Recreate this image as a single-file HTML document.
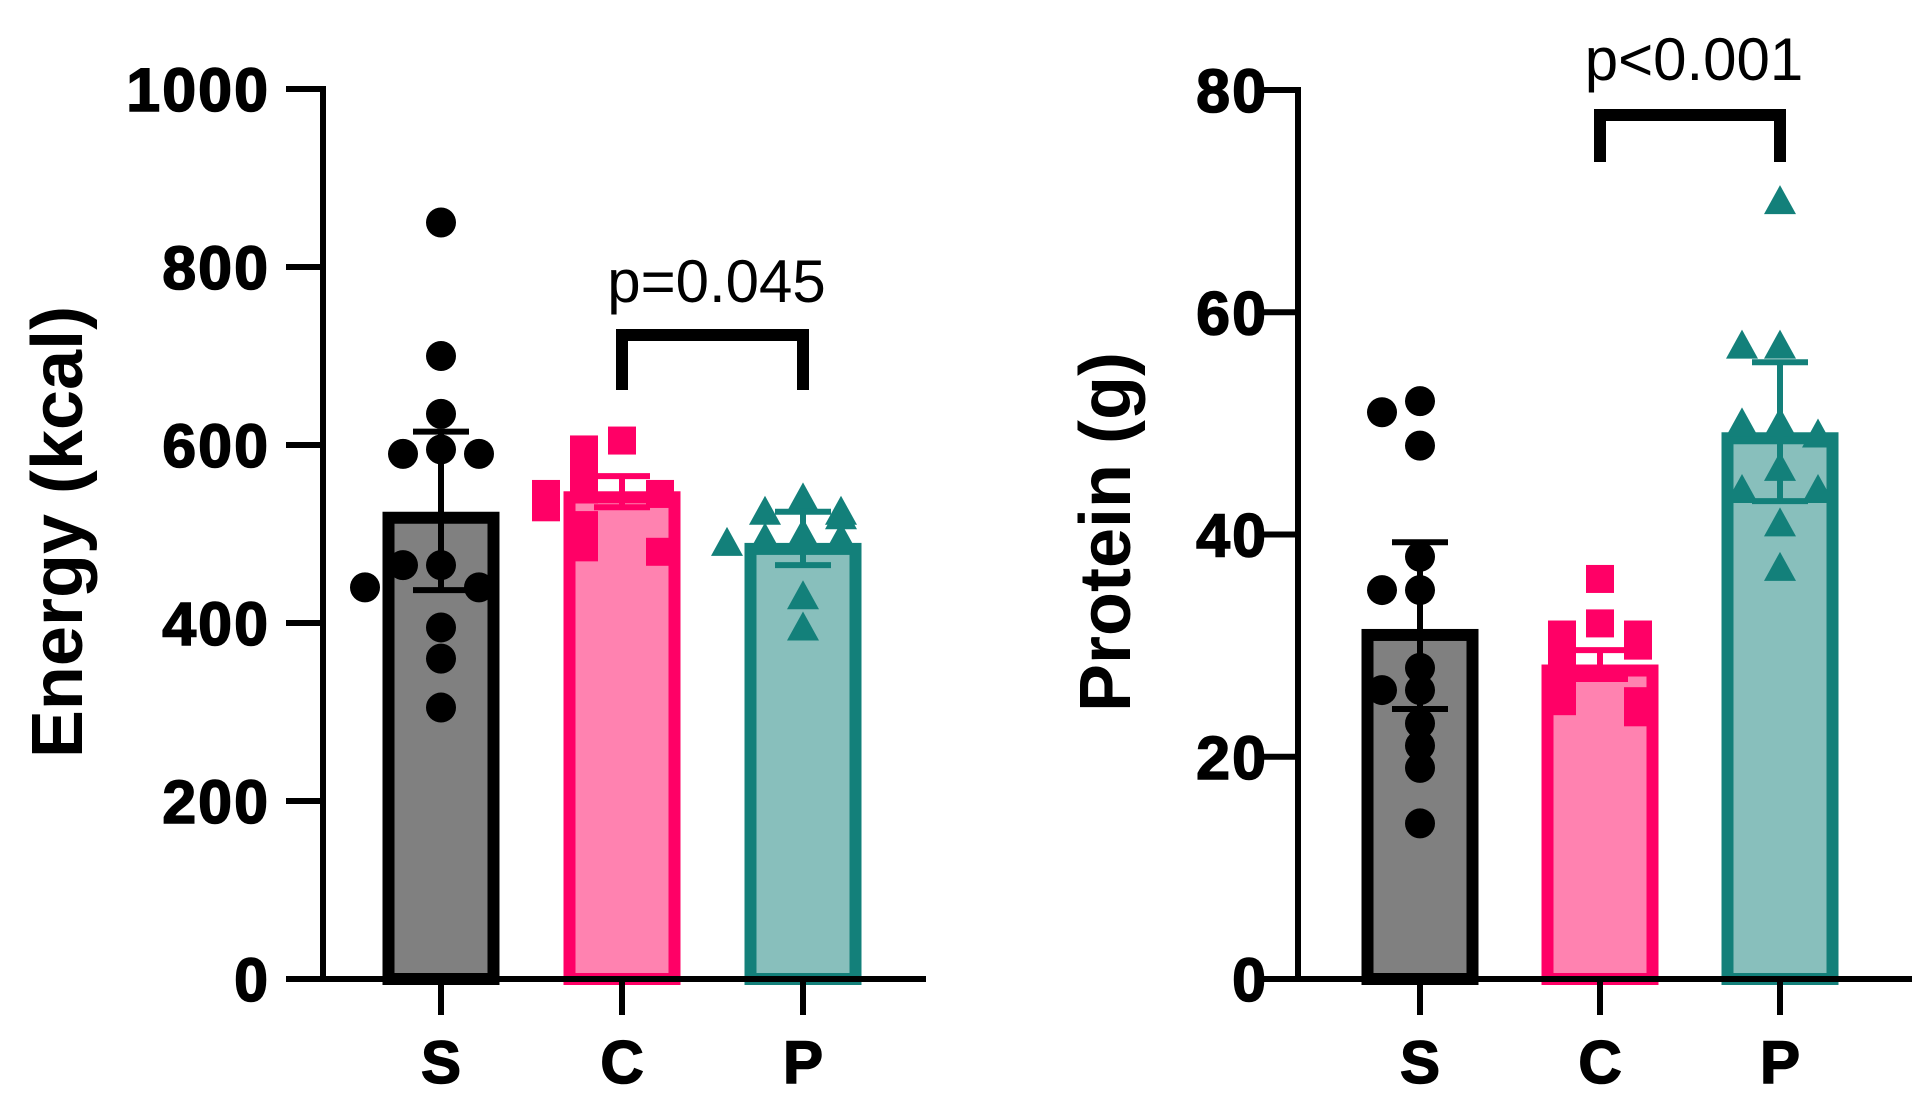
<!DOCTYPE html>
<html><head><meta charset="utf-8"><style>
html,body{margin:0;padding:0;background:#fff;}
svg{display:block;font-family:"Liberation Sans",Arial,sans-serif;}
</style></head><body>
<svg id="chart" width="1921" height="1105" viewBox="0 0 1921 1105" xmlns="http://www.w3.org/2000/svg"></svg>
<script>
const categories = ["S","C","P"];
const energyMeans = [525, 548, 490];
const energySemLow = [437, 530, 465];
const energySemHigh = [615, 565, 525];
const energyS = [850,700,635,595,590,590,465,465,440,440,395,360,305];
const energyC = [605,595,575,560,550,545,545,530,510,490,485,480];
const energyP = [540,525,525,520,500,495,495,490,430,395];
const energyTicks = [0,200,400,600,800,1000];
const proteinMeans = [31.5, 28.3, 49.2];
const proteinSemLow = [24.3, 27, 43];
const proteinSemHigh = [39.3, 29.6, 55.5];
const proteinS = [52,51,48,38,35,35,28,26,26,23,21,19,14];
const proteinC = [36,32,31,31,30,29,28,27,26,25,25,24];
const proteinP = [70,57,57,50,50,49,46,44,44,41,37];
const proteinTicks = [0,20,40,60,80];
const pLabels = ["p=0.045","p<0.001"];

const NS="http://www.w3.org/2000/svg";
const svg=document.getElementById('chart');
function mk(tag,attrs,parent){const e=document.createElementNS(NS,tag);for(const k in attrs)e.setAttribute(k,attrs[k]);(parent||svg).appendChild(e);return e;}
const fills=["#808080","#ff82b0","#88bfbc"];
const strokes=["#000000","#ff0066","#13807a"];
const shapes=["circle","square","triangle"];

function jitter(vals){
  const out=[];const tol=Math.max(...vals)*0.035;
  vals.forEach((v,i)=>{
    let n=0;for(let j=0;j<i;j++){if(Math.abs(vals[j]-v)<tol)n++;}
    const seq=[0,-1,1,-2,2,-0.5,0.5];
    out.push(seq[n%seq.length]);
  });
  return out;
}

function drawPanel(cfg){
  const g=mk('g',{});
  
  
  const y=v=>cfg.y0-v/cfg.max*(cfg.y0-cfg.yTop);
  const x=i=>cfg.cx[i];
  cfg.means.forEach((m,i)=>{
    const r=mk('rect',{x:x(i)-cfg.bw/2+6,y:y(m)+6,width:cfg.bw-12,height:Math.max(0,cfg.y0-y(m)-6),fill:fills[i],stroke:strokes[i],'stroke-width':12},g);
    
    
  });
  cfg.points.forEach((vals,i)=>{
    const jt=jitter(vals);
    vals.forEach((v,k)=>{
      const px=x(i)+jt[k]*cfg.spread, py=y(v);
      let e;
      if(shapes[i]==='circle') e=mk('circle',{cx:px,cy:py,r:15,fill:strokes[i]},g);
      else if(shapes[i]==='square') e=mk('rect',{x:px-14,y:py-14,width:28,height:28,fill:strokes[i]},g);
      else e=mk('polygon',{points:`${px},${py-16} ${px+16},${py+13} ${px-16},${py+13}`,fill:strokes[i]},g);
      
      
    });
  });
  cfg.means.forEach((m,i)=>{
    const eg=mk('g',{stroke:i==0?'#000':strokes[i],'stroke-width':6},g);
    
    
    mk('line',{x1:x(i),x2:x(i),y1:y(cfg.lo[i]),y2:y(cfg.hi[i])},eg);
    mk('line',{x1:x(i)-28,x2:x(i)+28,y1:y(cfg.hi[i]),y2:y(cfg.hi[i])},eg);
    mk('line',{x1:x(i)-28,x2:x(i)+28,y1:y(cfg.lo[i]),y2:y(cfg.lo[i])},eg);
  });
  const ax=mk('g',{stroke:'#000','stroke-width':6,fill:'none'},g);
  
  
  mk('line',{x1:cfg.ax,x2:cfg.ax,y1:cfg.yTop-3,y2:cfg.y0},ax);
  mk('line',{x1:cfg.ax-37,x2:cfg.xEnd,y1:cfg.y0,y2:cfg.y0},ax);
  cfg.ticks.forEach(t=>{mk('line',{x1:cfg.ax-37,x2:cfg.ax,y1:y(t),y2:y(t)},ax);
    const tx=mk('text',{x:cfg.tickRight,y:y(t)+22,'text-anchor':'end','font-size':61,'font-weight':'bold','letter-spacing':2,fill:'#000',stroke:'#000','stroke-width':1.5},g);
    tx.textContent=t;
    
    
  });
  categories.forEach((c,i)=>{
    mk('line',{x1:x(i),x2:x(i),y1:cfg.y0,y2:cfg.y0+36},ax);
    const tx=mk('text',{x:x(i),y:cfg.y0+104,'text-anchor':'middle','font-size':60,'font-weight':'bold',fill:'#000',stroke:'#000','stroke-width':1.5},g);
    tx.textContent=c;
    
    
  });
  const tt=mk('text',{x:0,y:0,transform:`translate(${cfg.titleX},${cfg.titleY}) rotate(-90)`,'text-anchor':'middle','font-size':cfg.titleSize,'font-weight':'bold',fill:'#000'},g);
  tt.textContent=cfg.title;
  
  
  const b=mk('polyline',{points:`${x(1)},${cfg.brBot} ${x(1)},${cfg.brTop} ${x(2)},${cfg.brTop} ${x(2)},${cfg.brBot}`,fill:'none',stroke:'#000','stroke-width':12},g);
  
  
  const pt=mk('text',{x:(x(1)+x(2))/2+4,y:cfg.pY,'text-anchor':'middle','font-size':60,fill:'#000'},g);
  pt.textContent=cfg.p;
  
  
}

drawPanel({name:'energy-panel',y0:979,yTop:89,max:1000,ax:323,xEnd:926,cx:[441,622,803],bw:117,spread:38,tickRight:270,
  means:energyMeans,lo:energySemLow,hi:energySemHigh,points:[energyS,energyC,energyP],ticks:energyTicks,
  title:'Energy (kcal)',titleSize:72,titleX:82,titleY:532,brTop:335,brBot:390,p:pLabels[0],pY:302});
drawPanel({name:'protein-panel',y0:979,yTop:90,max:80,ax:1298,xEnd:1912,cx:[1420,1600,1780],bw:117,spread:38,tickRight:1268,
  means:proteinMeans,lo:proteinSemLow,hi:proteinSemHigh,points:[proteinS,proteinC,proteinP],ticks:proteinTicks,
  title:'Protein (g)',titleSize:72,titleX:1130,titleY:532,brTop:115,brBot:162,p:pLabels[1],pY:80});
</script>
</body></html>
